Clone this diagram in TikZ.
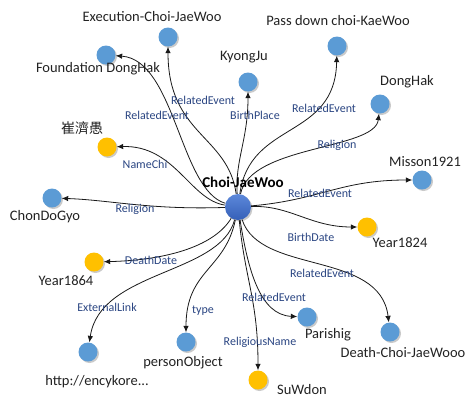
\documentclass[tikz,border=0pt]{standalone}
\usepackage{fontspec}
\setmainfont{Carlito}
\newfontfamily\cjk{Noto Sans CJK TC}
\usetikzlibrary{arrows.meta,shadows}
\definecolor{nodeblue}{HTML}{5B9BD5}
\definecolor{nodeyellow}{HTML}{FFC000}
\definecolor{edgelab}{HTML}{2A4582}
\definecolor{labtext}{HTML}{222222}
\definecolor{centertop}{HTML}{5C88DA}
\definecolor{centerbot}{HTML}{3560B8}
\begin{document}
\begin{tikzpicture}[x=1pt,y=-1pt,
  res/.style={circle, minimum size=19pt, inner sep=0pt,
    drop shadow={shadow xshift=1.5pt, shadow yshift=-1.5pt, opacity=0.35, fill=black!60}},
  blueres/.style={res, fill=nodeblue},
  yellowres/.style={res, fill=nodeyellow},
  centerres/.style={circle, minimum size=26pt, inner sep=0pt, top color=centertop, bottom color=centerbot,
    drop shadow={shadow xshift=1.5pt, shadow yshift=-1.5pt, opacity=0.35, fill=black!60}},
  lab/.style={font=\fontsize{14.5}{16}\selectfont, text=labtext, inner sep=0pt},
  elab/.style={font=\fontsize{12}{13}\selectfont, text=edgelab, inner sep=0pt},
  link/.style={draw=black!90, line width=0.8pt, -{Latex[length=6.5pt,width=5.5pt]}}
]
\useasboundingbox (0,0) rectangle (465,399);

% resources
\node[centerres] (c) at (238,207) {};
\node[blueres] (exec) at (168,37) {};
\node[blueres] (found) at (106,55) {};
\node[yellowres] (chi) at (107,147) {};
\node[blueres] (kyong) at (248,82) {};
\node[blueres] (pass) at (337,46) {};
\node[blueres] (donghak) at (380,104) {};
\node[blueres] (misson) at (422,180) {};
\node[blueres] (chondo) at (52,198) {};
\node[yellowres] (y1824) at (367,227) {};
\node[yellowres] (y1864) at (94,262) {};
\node[blueres] (http) at (88,352) {};
\node[blueres] (person) at (186,342) {};
\node[yellowres] (suwdon) at (258,380) {};
\node[blueres] (parishig) at (307,317) {};
\node[blueres] (death) at (390,332) {};

% connectors
\draw[link] (c) .. controls (228,135) and (168,135) .. (exec);
\draw[link] (c) .. controls (180,190) and (175,60) .. (found);
\draw[link] (c) .. controls (190,200) and (175,145) .. (chi);
\draw[link] (c) .. controls (235,160) and (248,140) .. (kyong);
\draw[link] (c) .. controls (250,120) and (335,140) .. (pass);
\draw[link] (c) .. controls (250,145) and (375,150) .. (donghak);
\draw[link] (c) .. controls (320,200) and (340,180) .. (misson);
\draw[link] (c) .. controls (150,210) and (110,200) .. (chondo);
\draw[link] (c) .. controls (290,205) and (310,227) .. (y1824);
\draw[link] (c) .. controls (215,245) and (170,260) .. (y1864);
\draw[link] (c) .. controls (220,275) and (100,270) .. (http);
\draw[link] (c) .. controls (225,270) and (186,270) .. (person);
\draw[link] (c) .. controls (245,280) and (258,300) .. (suwdon);
\draw[link] (c) .. controls (248,270) and (260,315) .. (parishig);
\draw[link] (c) .. controls (260,275) and (380,250) .. (death);

% edge labels
\node[elab] (e1) at (203,100) {RelatedEvent};
\node[elab] (e2) at (157,115) {RelatedEvent};
\node[elab] (e3) at (145,164) {NameChi};
\node[elab] (e4) at (255,115) {BirthPlace};
\node[elab] (e5) at (324,108) {RelatedEvent};
\node[elab] (e6) at (337,145) {Religion};
\node[elab] (e7) at (320,193) {RelatedEvent};
\node[elab] (e8) at (135,209) {Religion};
\node[elab] (e9) at (311,237) {BirthDate};
\node[elab] (e10) at (151,260) {DeathDate};
\node[elab] (e11) at (322,273) {RelatedEvent};
\node[elab] (e12) at (107,307) {ExternalLink};
\node[elab] (e13) at (203,311) {type};
\node[elab] (e14) at (274,297) {RelatedEvent};
\node[elab] (e15) at (260,342) {ReligiousName};

% node labels
\node[lab, font=\fontsize{15}{16}\selectfont\bfseries, text=black] (lc) at (243,182) {Choi-JaeWoo};
\node[lab] (l1) at (152,17) {Execution-Choi-JaeWoo};
\node[lab] (l2) at (98,69) {Foundation DongHak};
\node[lab, font=\fontsize{14}{16}\selectfont\cjk] (l3) at (82,128) {崔濟愚};
\node[lab] (l4) at (244,57) {KyongJu};
\node[lab] (l5) at (338,21) {Pass down choi-KaeWoo};
\node[lab] (l6) at (407,82) {DongHak};
\node[lab] (l7) at (425,162) {Misson1921};
\node[lab] (l8) at (45,217) {ChonDoGyo};
\node[lab] (l9) at (400,243) {Year1824};
\node[lab] (l10) at (66,281) {Year1864};
\node[lab] (l11) at (97,382) {http://encykore...};
\node[lab] (l12) at (183,363) {personObject};
\node[lab] (l13) at (328,335) {Parishig};
\node[lab] (l14) at (302,390) {SuWdon};
\node[lab] (l15) at (403,353) {Death-Choi-JaeWooo};
\end{tikzpicture}
\end{document}
